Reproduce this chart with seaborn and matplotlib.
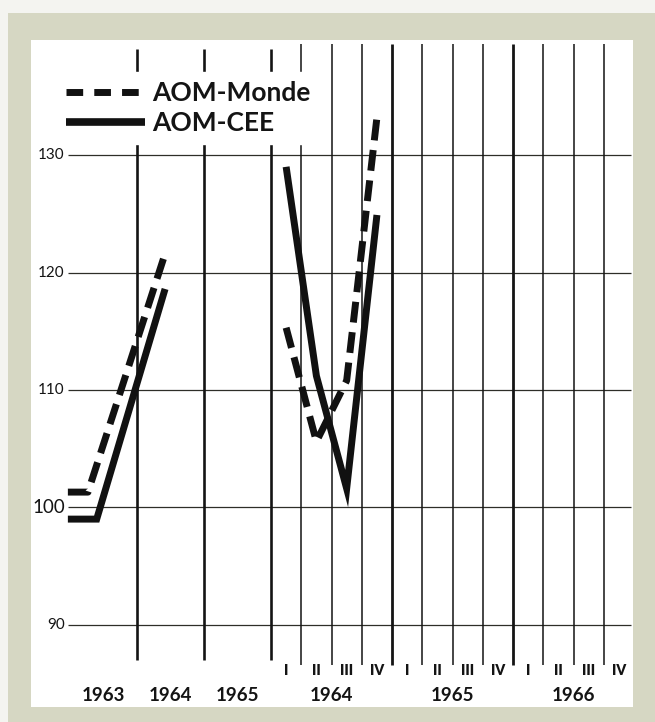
import numpy as np
import matplotlib
matplotlib.use("Agg")
import matplotlib.pyplot as plt
from matplotlib.lines import Line2D
from matplotlib.patches import Rectangle
import seaborn as sns

# annual part: x is the position inside the year columns (1963 column = 0..1)
years_annual = ["1963", "1964", "1965"]
annual_x_monde = [-0.03, 0.27, 1.42]
annual_monde = [101.3, 101.3, 121.6]
annual_x_cee = [-0.03, 0.40, 1.42]
annual_cee = [99.0, 99.0, 118.6]

# quarterly part (only 1964 filled in)
years_quarterly = ["1964", "1965", "1966"]
quarters = ["I", "II", "III", "IV"]
quarter_monde_1964 = [115.3, 105.6, 110.8, 133.2]
quarter_cee_1964 = [129.0, 111.2, 101.6, 124.9]

y_ticks = [90, 100, 110, 120, 130]

# layout
Q_START = 3.0      # quarterly section starts after the 3 year columns
Q_W = 0.4515       # width of one quarter column
INK = "#141414"

sns.set_style("white")
plt.rcParams["font.family"] = ["Lato", "DejaVu Sans"]

fig = plt.figure(figsize=(6.55, 7.22), dpi=100)
fig.patch.set_facecolor("#d6d7c3")
# light strips of the scan at top and left
fig.patches.append(Rectangle((0, 1 - 13 / 722), 1, 13 / 722, transform=fig.transFigure,
                             facecolor="#f4f4f0", edgecolor="none", zorder=0))
fig.patches.append(Rectangle((0, 0), 8 / 655, 1, transform=fig.transFigure,
                             facecolor="#f4f4f0", edgecolor="none", zorder=0))

ax = fig.add_axes([31 / 655, 15 / 722, 602 / 655, 667 / 722])
ax.set_facecolor("white")
ax.set_xlim(-0.58, 8.40)
ax.set_ylim(83.0, 139.8)

# horizontal grid
ax.hlines(y_ticks, -0.03, 8.37, color="#2e2e28", lw=0.9, zorder=1)

# vertical separators
ax.vlines([1, 2, 3], 87.0, 139.0, color=INK, lw=1.9, zorder=1)
n_q = 4 * len(years_quarterly)
for k in range(1, n_q):
    thick = k % 4 == 0
    ax.vlines(Q_START + k * Q_W, 86.6, 139.5, color=INK,
              lw=2.0 if thick else 1.1, zorder=1)

dash = (0, (3.0, 1.4))
line_kw = dict(color="#111111", lw=5.0, ax=ax, sort=False)

q_x = Q_START + (np.arange(4) + 0.5) * Q_W

sns.lineplot(x=annual_x_monde, y=annual_monde, linestyle=dash,
             dash_capstyle="butt", **line_kw)
sns.lineplot(x=annual_x_cee, y=annual_cee, solid_capstyle="butt",
             solid_joinstyle="miter", **line_kw)
sns.lineplot(x=q_x, y=quarter_monde_1964, linestyle=dash,
             dash_capstyle="butt", **line_kw)
sns.lineplot(x=q_x, y=quarter_cee_1964, solid_capstyle="butt",
             solid_joinstyle="miter", **line_kw)

# legend
handles = [
    Line2D([], [], color="#111111", lw=5.0, linestyle=(0, (2.4, 1.6)), dash_capstyle="butt"),
    Line2D([], [], color="#111111", lw=5.5, solid_capstyle="butt"),
]
leg = ax.legend(handles, ["AOM-Monde", "AOM-CEE"], loc="upper left",
                bbox_to_anchor=(0.042, 0.952), borderaxespad=0, borderpad=0.35,
                handlelength=3.0, handletextpad=0.3, labelspacing=0.22,
                frameon=True, fancybox=False, framealpha=1,
                prop={"weight": "bold", "size": 19})
leg.get_frame().set_facecolor("white")
leg.get_frame().set_edgecolor("white")
for t in leg.get_texts():
    t.set_color(INK)

# y labels
for v in y_ticks:
    ax.text(-0.075, v, str(v), ha="right", va="center", color=INK,
            fontsize=13.5 if v == 100 else 11)

# x labels
for i, y in enumerate(years_annual):
    ax.text(i + 0.5, 84.0, y, ha="center", va="center", color=INK,
            fontsize=13.5, fontweight="bold")
for k in range(n_q):
    ax.text(Q_START + (k + 0.5) * Q_W, 86.1, quarters[k % 4], ha="center",
            va="center", color=INK, fontsize=10, fontweight="heavy")
for j, y in enumerate(years_quarterly):
    ax.text(Q_START + (4 * j + 2) * Q_W, 84.0, y, ha="center", va="center",
            color=INK, fontsize=13.5, fontweight="bold")

ax.set_xticks([])
ax.set_yticks([])
ax.set_xlabel("")
ax.set_ylabel("")
for s in ax.spines.values():
    s.set_visible(False)

fig.savefig("out.png", dpi=100)
